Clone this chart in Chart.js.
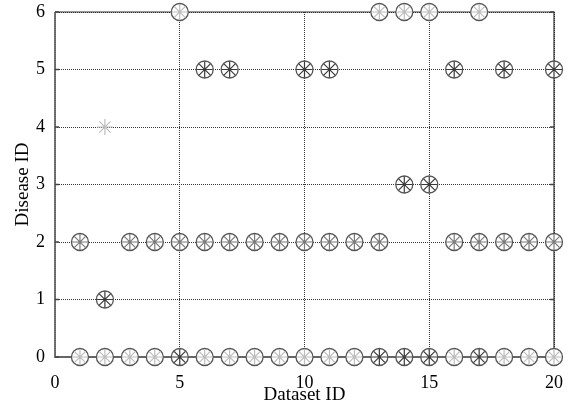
<!DOCTYPE html>
<html>
<head>
<meta charset="utf-8">
<script src="https://cdn.jsdelivr.net/npm/chart.js@4.4.0/dist/chart.umd.min.js"></script>
<style>
  html, body { margin: 0; padding: 0; background: #fff; }
  #wrap { width: 569px; height: 402px; }
</style>
</head>
<body>
<div id="wrap"><canvas id="c" width="569" height="402"></canvas></div>
<script>
// Actual disease labels: dataset IDs carrying each disease ID
const actualDisease0 = [1, 2, 3, 4, 5, 6, 7, 8, 9, 10, 11, 12, 13, 14, 15, 16, 17, 18, 19, 20];
const actualDisease1 = [2];
const actualDisease2 = [1, 3, 4, 5, 6, 7, 8, 9, 10, 11, 12, 13, 16, 17, 18, 19, 20];
const actualDisease3 = [14, 15];
const actualDisease5 = [6, 7, 10, 11, 16, 18, 20];
const actualDisease6 = [5, 13, 14, 15, 17];

// Predicted labels, as [dataset ID, disease ID], grouped by marker shade
const predictedLight = [
  [1, 0], [2, 0], [3, 0], [4, 0], [6, 0], [7, 0], [8, 0], [9, 0], [10, 0],
  [11, 0], [12, 0], [16, 0], [18, 0], [19, 0], [20, 0],
  [2, 4],
  [5, 6], [13, 6], [14, 6], [15, 6], [17, 6]
];
const predictedMid = [
  [1, 2], [3, 2], [4, 2], [5, 2], [6, 2], [7, 2], [8, 2], [9, 2], [10, 2],
  [11, 2], [12, 2], [13, 2], [16, 2], [17, 2], [18, 2], [19, 2], [20, 2]
];
const predictedDark = [
  [5, 0], [13, 0], [14, 0], [15, 0], [17, 0],
  [2, 1],
  [14, 3], [15, 3],
  [6, 5], [7, 5], [10, 5], [11, 5], [16, 5], [18, 5], [20, 5]
];

const xTicks = [0, 5, 10, 15, 20];
const yTicks = [0, 1, 2, 3, 4, 5, 6];

const actualPoints = []
  .concat(actualDisease0.map(x => ({ x, y: 0 })))
  .concat(actualDisease1.map(x => ({ x, y: 1 })))
  .concat(actualDisease2.map(x => ({ x, y: 2 })))
  .concat(actualDisease3.map(x => ({ x, y: 3 })))
  .concat(actualDisease5.map(x => ({ x, y: 5 })))
  .concat(actualDisease6.map(x => ({ x, y: 6 })));

const toPts = arr => arr.map(([x, y]) => ({ x, y }));

const FONT = '"Liberation Serif", "Times New Roman", serif';

// Solid box around the plot plus short inward ticks on the side edges
const frame = {
  id: 'frame',
  beforeDatasetsDraw(chart) {
    const { ctx, chartArea: a, scales } = chart;
    ctx.save();
    ctx.setLineDash([]);
    ctx.lineWidth = 1.2;
    ctx.strokeStyle = '#333';
    ctx.beginPath();
    ctx.moveTo(a.left, a.top); ctx.lineTo(a.right, a.top); ctx.lineTo(a.right, a.bottom);
    ctx.stroke();
    ctx.lineWidth = 1.8;
    ctx.strokeStyle = '#666';
    ctx.beginPath();
    ctx.moveTo(a.left, a.top); ctx.lineTo(a.left, a.bottom); ctx.lineTo(a.right, a.bottom);
    ctx.stroke();
    ctx.lineWidth = 1.5;
    ctx.strokeStyle = '#444';
    yTicks.forEach(v => {
      const py = scales.y.getPixelForValue(v);
      ctx.beginPath();
      ctx.moveTo(a.left, py); ctx.lineTo(a.left + 4, py);
      ctx.moveTo(a.right, py); ctx.lineTo(a.right - 4, py);
      ctx.stroke();
    });
    ctx.restore();
  }
};

new Chart(document.getElementById('c'), {
  type: 'scatter',
  data: {
    datasets: [
      {
        label: 'Actual',
        data: actualPoints,
        pointStyle: 'circle',
        pointRadius: 8.5,
        pointBackgroundColor: '#fff',
        pointBorderColor: '#555',
        pointBorderWidth: 1.3,
        order: 2,
        clip: false
      },
      {
        label: 'Predicted',
        data: toPts(predictedLight),
        pointStyle: 'star',
        pointRadius: 8,
        pointBorderColor: '#bdbdbd',
        pointBorderWidth: 1.2,
        order: 1,
        clip: false
      },
      {
        label: 'Predicted',
        data: toPts(predictedMid),
        pointStyle: 'star',
        pointRadius: 8,
        pointBorderColor: '#7a7a7a',
        pointBorderWidth: 1.2,
        order: 1,
        clip: false
      },
      {
        label: 'Predicted',
        data: toPts(predictedDark),
        pointStyle: 'star',
        pointRadius: 8,
        pointBorderColor: '#3a3a3a',
        pointBorderWidth: 1.2,
        order: 1,
        clip: false
      }
    ]
  },
  options: {
    responsive: false,
    animation: false,
    events: [],
    layout: { padding: { top: 12, right: 15, left: 0, bottom: 0 } },
    plugins: { legend: { display: false }, tooltip: { enabled: false } },
    scales: {
      x: {
        type: 'linear',
        min: 0, max: 20,
        afterBuildTicks: s => { s.ticks = xTicks.map(v => ({ value: v })); },
        afterFit: s => { s.height = 45; s.paddingLeft = 0; s.paddingRight = 0; },
        ticks: {
          color: '#000',
          font: { family: FONT, size: 18 },
          padding: 15,
          maxRotation: 0
        },
        grid: { color: '#333', lineWidth: 1, drawTicks: false },
        border: { display: false, dash: [1, 1] },
        title: {
          display: true,
          text: 'Dataset ID',
          color: '#000',
          font: { family: FONT, size: 19, lineHeight: 1.0 },
          padding: { top: 0, bottom: -3 }
        }
      },
      y: {
        type: 'linear',
        min: 0, max: 6,
        afterBuildTicks: s => { s.ticks = yTicks.map(v => ({ value: v })); },
        afterFit: s => { s.width = 55; s.paddingTop = 0; s.paddingBottom = 0; },
        ticks: {
          color: '#000',
          font: { family: FONT, size: 18 },
          padding: 10
        },
        grid: { color: '#333', lineWidth: 1, drawTicks: false },
        border: { display: false, dash: [1, 1] },
        title: {
          display: true,
          text: 'Disease ID',
          color: '#000',
          font: { family: FONT, size: 19, lineHeight: 1.0 },
          padding: { top: 14, bottom: 0 }
        }
      }
    }
  },
  plugins: [frame]
});
</script>
</body>
</html>
